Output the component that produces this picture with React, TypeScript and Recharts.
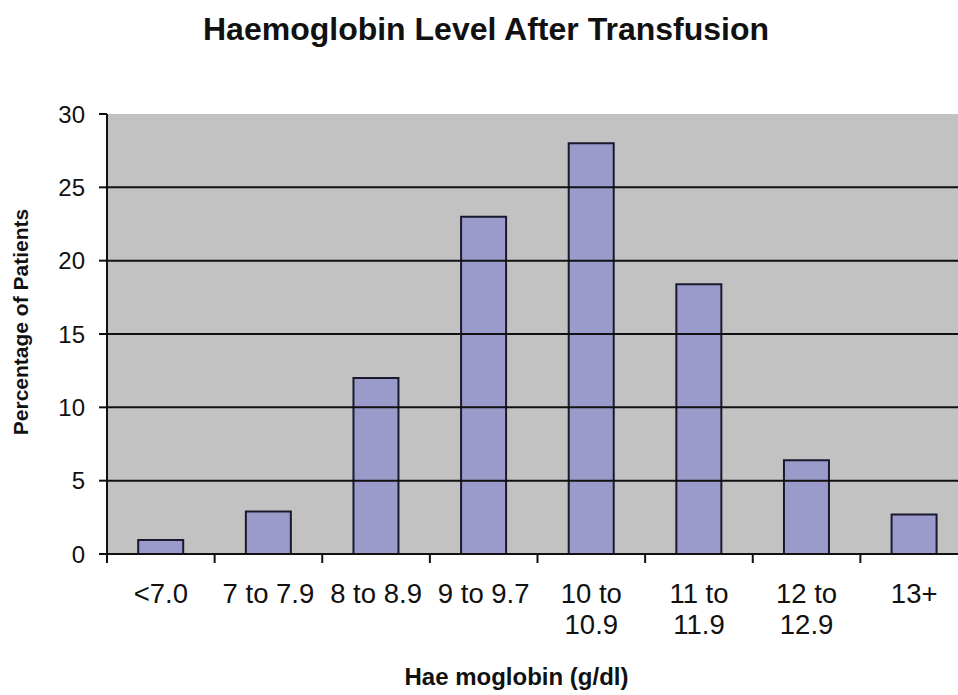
import React from "react";
import { BarChart, Bar, XAxis, YAxis, CartesianGrid, ReferenceLine } from "recharts";

const categories = ["<7.0", "7 to 7.9", "8 to 8.9", "9 to 9.7", "10 to 10.9", "11 to 11.9", "12 to 12.9", "13+"];
const tickLines: string[][] = [["<7.0"], ["7 to 7.9"], ["8 to 8.9"], ["9 to 9.7"], ["10 to", "10.9"], ["11 to", "11.9"], ["12 to", "12.9"], ["13+"]];
const percentages = [0.95, 2.9, 12, 23, 28, 18.4, 6.4, 2.7];
const yTicks = [0, 5, 10, 15, 20, 25, 30];
const gridValues = [5, 10, 15, 20, 25];

const data = categories.map((c, i) => ({ name: c, value: percentages[i] }));

const CHART_W = 970;
const CHART_H = 695;
const LEFT = 107;
const RIGHT_PAD = 2;
const BAND = (CHART_W - LEFT - RIGHT_PAD) / categories.length;

const FONT = "'Liberation Sans', Arial, sans-serif";

const XTick = (props: any) => {
  const { x, y, payload, index } = props;
  const half = payload && typeof payload.offset === "number" && payload.offset > 0 ? payload.offset : BAND / 2;
  const lines = tickLines[index] || [String(payload.value)];
  return (
    <g>
      <line x1={x - half} x2={x - half} y1={y - 8} y2={y + 1} stroke="#111" strokeWidth={2} />
      {lines.map((l, i) => (
        <text key={i} x={x} y={y + 41 + i * 31} textAnchor="middle" fontFamily={FONT} fontSize={27.5} fill="#111">
          {l}
        </text>
      ))}
    </g>
  );
};

const XLabel = (props: any) => {
  const vb = props.viewBox || {};
  const cx = (vb.x || 0) + (vb.width || 0) / 2 - 21;
  const by = (vb.y || 0) + (vb.height || 0) - 10;
  return (
    <text x={cx} y={by} textAnchor="middle" fontFamily={FONT} fontWeight="bold" fontSize={24} fill="#111">
      Hae moglobin (g/dl)
    </text>
  );
};

const YLabel = () => (
  <text x={28} y={322} transform="rotate(-90, 28, 322)" textAnchor="middle" fontFamily={FONT} fontWeight="bold" fontSize={21} fill="#111">
    Percentage of Patients
  </text>
);

export default function App() {
  return (
    <div style={{ position: "absolute", left: 0, top: 0, width: 958, height: 695, overflow: "hidden", background: "#fff" }}>
      <div style={{ position: "absolute", left: 0, top: 11, width: 972, textAlign: "center", fontFamily: FONT, fontWeight: "bold", fontSize: 32, lineHeight: "normal", color: "#111", whiteSpace: "nowrap" }}>
        Haemoglobin Level After Transfusion
      </div>
      <div style={{ position: "absolute", left: 0, top: 0 }}>
        <BarChart width={CHART_W} height={CHART_H} data={data} margin={{ top: 114, right: RIGHT_PAD, left: 0, bottom: 0 }} barCategoryGap="29%">
          <CartesianGrid fill="#c2c2c2" horizontal={false} vertical={false} stroke="#c2c2c2" />
          {gridValues.map((v) => (
            <ReferenceLine key={v} y={v} stroke="#111" strokeWidth={2} />
          ))}
          <XAxis
            dataKey="name"
            height={141}
            axisLine={{ stroke: "#111", strokeWidth: 2 }}
            tickLine={false}
            interval={0}
            tick={<XTick />}
            label={<XLabel />}
          />
          <YAxis
            width={LEFT}
            domain={[0, 30]}
            ticks={yTicks}
            interval={0}
            axisLine={{ stroke: "#111", strokeWidth: 2 }}
            tickLine={{ stroke: "#111", strokeWidth: 2 }}
            tickSize={8}
            tickMargin={14}
            tick={{ fontFamily: FONT, fontSize: 24, fill: "#111" }}
            label={<YLabel />}
          />
          <Bar dataKey="value" fill="#9b9bcb" stroke="#1a1a2e" strokeWidth={2} isAnimationActive={false} />
        </BarChart>
      </div>
    </div>
  );
}
